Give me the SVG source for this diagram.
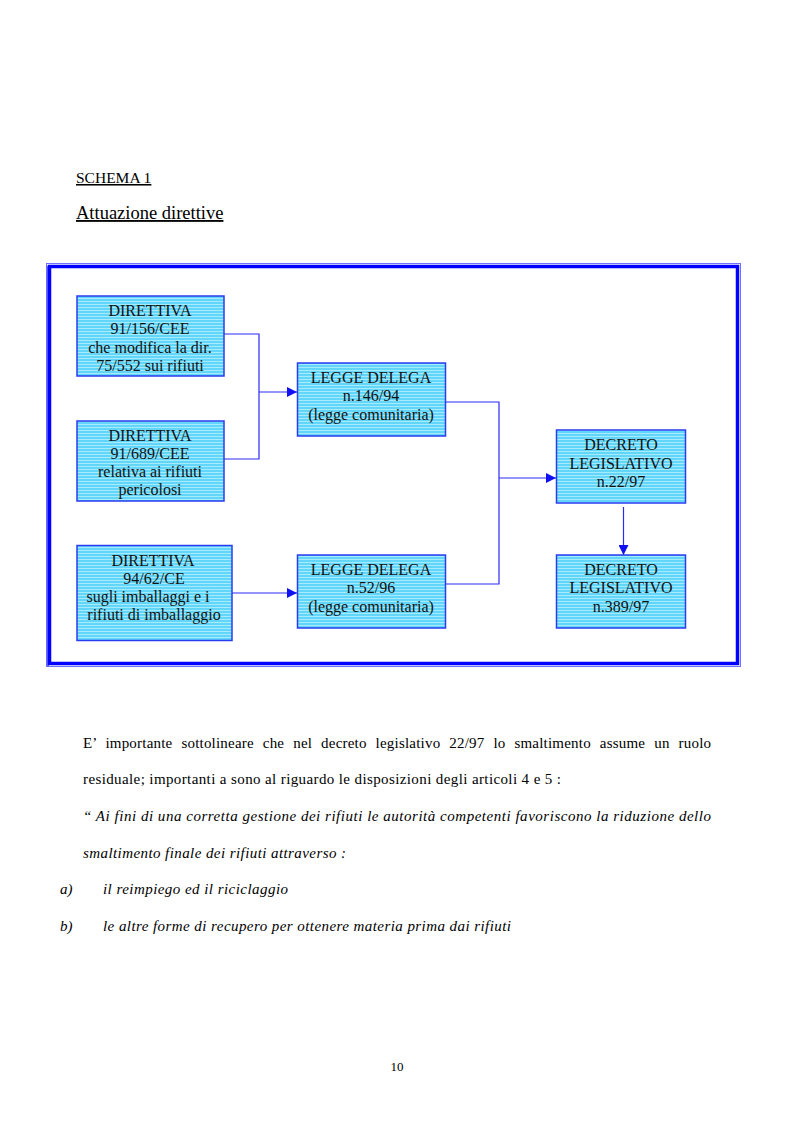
<svg xmlns="http://www.w3.org/2000/svg" width="793" height="1123" viewBox="0 0 793 1123">
<defs>
<pattern id="stripes" patternUnits="userSpaceOnUse" width="8" height="3">
<rect width="8" height="3" fill="#62d6fa"/>
<rect y="1" width="8" height="1" fill="#a6eafd"/>
</pattern>
<marker id="arr" viewBox="0 0 10 10" refX="10" refY="5" markerWidth="10" markerHeight="10" markerUnits="userSpaceOnUse" orient="auto">
<path d="M0,0 L10,5 L0,10 Z" fill="#1010f0"/>
</marker>
</defs>
<style>
.box{fill:url(#stripes);stroke:#2a3cf0;stroke-width:1.5}
.bt{font-family:"Liberation Serif","Times New Roman",serif;font-size:16px;fill:#111;text-anchor:middle}
.conn{fill:none;stroke:#2a2af5;stroke-width:1.2}
.body{font-family:"Liberation Serif","Times New Roman",serif;font-size:15px;fill:#000}
.it{font-style:italic}
</style>
<rect width="793" height="1123" fill="#fff"/>
<text x="76" y="183" style="font-family:'Liberation Serif',serif;font-size:15.5px" text-decoration="underline">SCHEMA 1</text>
<text x="76" y="219" style="font-family:'Liberation Serif',serif;font-size:18.5px" text-decoration="underline">Attuazione direttive</text>
<g id="frame">
<rect x="46.5" y="263.5" width="694" height="403" fill="none" stroke="#7070ff" stroke-width="1"/>
<rect x="46" y="266" width="3" height="401" fill="#6a6aff"/>
<rect x="49.5" y="266.5" width="688" height="397" fill="none" stroke="#0000ff" stroke-width="3.5"/>
</g>
<g id="connectors">
<polyline class="conn" points="221,334 259,334 259,459 221,459"/>
<line class="conn" x1="259" y1="392" x2="297" y2="392" marker-end="url(#arr)"/>
<polyline class="conn" points="441,402 499,402 499,584 441,584"/>
<line class="conn" x1="499" y1="478" x2="556" y2="478" marker-end="url(#arr)"/>
<line class="conn" x1="230" y1="593" x2="297" y2="593" marker-end="url(#arr)"/>
<line class="conn" x1="623.5" y1="507" x2="623.5" y2="555" marker-end="url(#arr)"/>
</g>
<g id="n1">
<rect class="box" x="77" y="296" width="147" height="80"/>
<text class="bt" x="150" y="316">DIRETTIVA</text>
<text class="bt" x="150" y="334">91/156/CEE</text>
<text class="bt" x="150" y="353">che modifica la dir.</text>
<text class="bt" x="150" y="371">75/552 sui rifiuti</text>
</g>
<g id="n2">
<rect class="box" x="77" y="421" width="147" height="80"/>
<text class="bt" x="150" y="441">DIRETTIVA</text>
<text class="bt" x="150" y="459">91/689/CEE</text>
<text class="bt" x="150" y="477">relativa ai rifiuti</text>
<text class="bt" x="150" y="495">pericolosi</text>
</g>
<g id="n3">
<rect class="box" x="77" y="545.5" width="155" height="95"/>
<text class="bt" x="153" y="566">DIRETTIVA</text>
<text class="bt" x="154" y="584">94/62/CE</text>
<text class="bt" x="148" y="602">sugli imballaggi e i</text>
<text class="bt" x="154" y="620">rifiuti di imballaggio</text>
</g>
<g id="n4">
<rect class="box" x="297.5" y="363" width="148" height="73"/>
<text class="bt" x="371" y="383">LEGGE DELEGA</text>
<text class="bt" x="371" y="401">n.146/94</text>
<text class="bt" x="371" y="420">(legge comunitaria)</text>
</g>
<g id="n5">
<rect class="box" x="297.5" y="555" width="148" height="73"/>
<text class="bt" x="371" y="575">LEGGE DELEGA</text>
<text class="bt" x="371" y="593">n.52/96</text>
<text class="bt" x="371" y="612">(legge comunitaria)</text>
</g>
<g id="n6">
<rect class="box" x="556.5" y="430" width="129" height="73"/>
<text class="bt" x="621" y="450">DECRETO</text>
<text class="bt" x="621" y="469">LEGISLATIVO</text>
<text class="bt" x="621" y="487">n.22/97</text>
</g>
<g id="n7">
<rect class="box" x="556.5" y="555" width="129" height="73"/>
<text class="bt" x="621" y="575">DECRETO</text>
<text class="bt" x="621" y="593">LEGISLATIVO</text>
<text class="bt" x="621" y="612">n.389/97</text>
</g>
<g id="bodytext">
<text class="body" x="83" y="748" textLength="628" lengthAdjust="spacing" word-spacing="5">E’ importante sottolineare che nel decreto legislativo 22/97 lo smaltimento assume un ruolo</text>
<text class="body" x="83" y="784" textLength="478" lengthAdjust="spacing">residuale; importanti a sono al riguardo le disposizioni degli articoli 4 e 5 :</text>
<text class="body it" x="83" y="821" textLength="628" lengthAdjust="spacing">“ Ai fini di una corretta gestione dei rifiuti le autorità competenti favoriscono la riduzione dello</text>
<text class="body it" x="83" y="858" textLength="263" lengthAdjust="spacing">smaltimento finale dei rifiuti attraverso :</text>
<text class="body it" x="60" y="894">a)</text>
<text class="body it" x="103" y="894" textLength="185" lengthAdjust="spacing">il reimpiego ed il riciclaggio</text>
<text class="body it" x="60" y="931">b)</text>
<text class="body it" x="103" y="931" textLength="408" lengthAdjust="spacing">le altre forme di recupero per ottenere materia prima dai rifiuti</text>
<text class="body" x="397" y="1071" text-anchor="middle" style="font-size:13px">10</text>
</g>
</svg>
